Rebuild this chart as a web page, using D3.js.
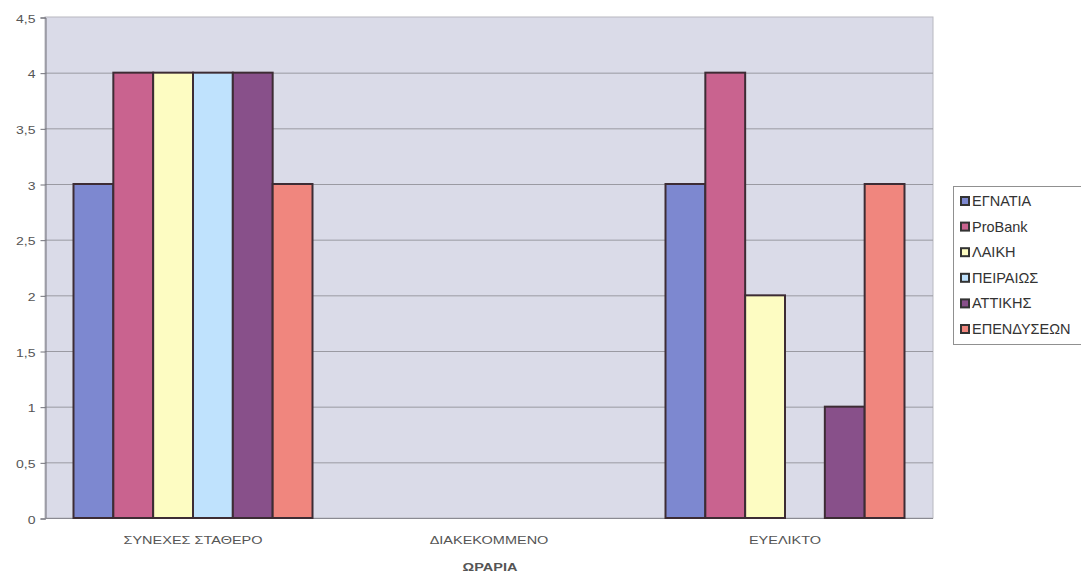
<!DOCTYPE html>
<html>
<head>
<meta charset="utf-8">
<script src="https://cdn.jsdelivr.net/npm/d3@7"></script>
<style>
  body { margin: 0; background: #fff; }
  svg { display: block; font-family: "Liberation Sans", Arial, sans-serif; }
</style>
</head>
<body>
<svg id="chart" width="1081" height="576"></svg>
<script>
// Working-hours categories and bank series
const categories = ["ΣΥΝΕΧΕΣ ΣΤΑΘΕΡΟ", "ΔΙΑΚΕΚΟΜΜΕΝΟ", "ΕΥΕΛΙΚΤΟ"];
const seriesNames = ["ΕΓΝΑΤΙΑ", "ProBank", "ΛΑΙΚΗ", "ΠΕΙΡΑΙΩΣ", "ΑΤΤΙΚΗΣ", "ΕΠΕΝΔΥΣΕΩΝ"];
const egnatia    = [3, 0, 3];
const probank    = [4, 0, 4];
const laiki      = [4, 0, 2];
const peiraios   = [4, 0, 0];
const attikis    = [4, 0, 1];
const ependyseon = [3, 0, 3];
const seriesValues = [egnatia, probank, laiki, peiraios, attikis, ependyseon];
const seriesColors = ["#7d88d0", "#c9638f", "#fdfcc2", "#bfe2fd", "#88508a", "#f0867e"];
const yTicks = [0, 0.5, 1, 1.5, 2, 2.5, 3, 3.5, 4, 4.5];
const axisTitle = "ΩΡΑΡΙΑ";

const svg = d3.select("#chart");
const plot = { left: 45, right: 933, top: 17, bottom: 518 };
// axis lettering is wide and vertically compressed
const squash = 0.8;

const x0 = d3.scaleBand().domain(categories).range([plot.left, plot.right]).paddingInner(0).paddingOuter(0);
const groupW = 239;
const x1 = d3.scaleBand().domain(seriesNames).range([0, groupW]).padding(0);
const y = d3.scaleLinear().domain([0, 4.5]).range([plot.bottom, plot.top]);

// plot area background
svg.append("rect")
  .attr("x", plot.left).attr("y", plot.top)
  .attr("width", plot.right - plot.left).attr("height", plot.bottom - plot.top)
  .attr("fill", "#dadbe8").attr("stroke", "#b8b8c0").attr("stroke-width", 1);

// horizontal gridlines
svg.append("g").selectAll("line").data(yTicks.filter(t => t > 0 && t < 4.5)).join("line")
  .attr("x1", plot.left).attr("x2", plot.right)
  .attr("y1", d => y(d) + 0.5).attr("y2", d => y(d) + 0.5)
  .attr("stroke", "#9a9aa2").attr("stroke-width", 1);

// y axis
const yAxis = d3.axisLeft(y).tickValues(yTicks).tickSize(5).tickPadding(5)
  .tickFormat(d => String(d).replace(".", ","));
const gy = svg.append("g").attr("transform", `translate(${plot.left + 0.5},0.5)`).call(yAxis);
gy.select(".domain").attr("stroke", "#707078");
gy.selectAll(".tick line").attr("stroke", "#707078");
gy.selectAll(".tick text")
  .attr("fill", "#555").attr("font-size", 14)
  .attr("x", null).attr("dy", null)
  .attr("transform", `translate(-10,4.5) scale(1,${squash})`);

// x axis baseline
svg.append("line")
  .attr("x1", plot.left).attr("x2", plot.right)
  .attr("y1", plot.bottom + 0.5).attr("y2", plot.bottom + 0.5)
  .attr("stroke", "#8a8a92");

// bars
const groups = svg.append("g").selectAll("g").data(categories).join("g")
  .attr("transform", c => `translate(${x0(c) + (x0.bandwidth() - groupW) / 2},0)`);
groups.selectAll("rect")
  .data((c, ci) => seriesNames.map((s, si) => ({ s, si, v: seriesValues[si][ci] })).filter(d => d.v > 0))
  .join("rect")
  .attr("x", d => x1(d.s))
  .attr("y", d => y(d.v))
  .attr("width", x1.bandwidth())
  .attr("height", d => y(0) - y(d.v))
  .attr("fill", d => seriesColors[d.si])
  .attr("stroke", "#3d2c34").attr("stroke-width", 2);

// category labels
svg.append("g").selectAll("text").data(categories).join("text")
  .attr("transform", c => `translate(${x0(c) + x0.bandwidth() / 2},544) scale(1,${squash})`)
  .attr("text-anchor", "middle")
  .attr("font-size", 14.5).attr("fill", "#555")
  .text(c => c);

// axis title
svg.append("text")
  .attr("transform", `translate(${plot.left + (plot.right - plot.left) / 2 + 1},571) scale(1,${squash})`)
  .attr("text-anchor", "middle")
  .attr("font-size", 14.5)
  .attr("font-weight", "bold").attr("fill", "#555")
  .text(axisTitle);

// legend
const leg = svg.append("g").attr("transform", "translate(953,186)");
leg.append("rect").attr("x", 0.5).attr("y", 0.5).attr("width", 140).attr("height", 158)
  .attr("fill", "#fff").attr("stroke", "#909090");
const items = leg.selectAll("g").data(seriesNames).join("g")
  .attr("transform", (d, i) => `translate(8,${20 + i * 25.6})`);
items.append("rect").attr("x", 0).attr("y", -9).attr("width", 8).attr("height", 8)
  .attr("fill", (d, i) => seriesColors[i]).attr("stroke", "#333").attr("stroke-width", 2);
items.append("text").attr("x", 11).attr("y", 0)
  .attr("font-size", 14.5).attr("fill", "#333").text(d => d);
</script>
</body>
</html>
